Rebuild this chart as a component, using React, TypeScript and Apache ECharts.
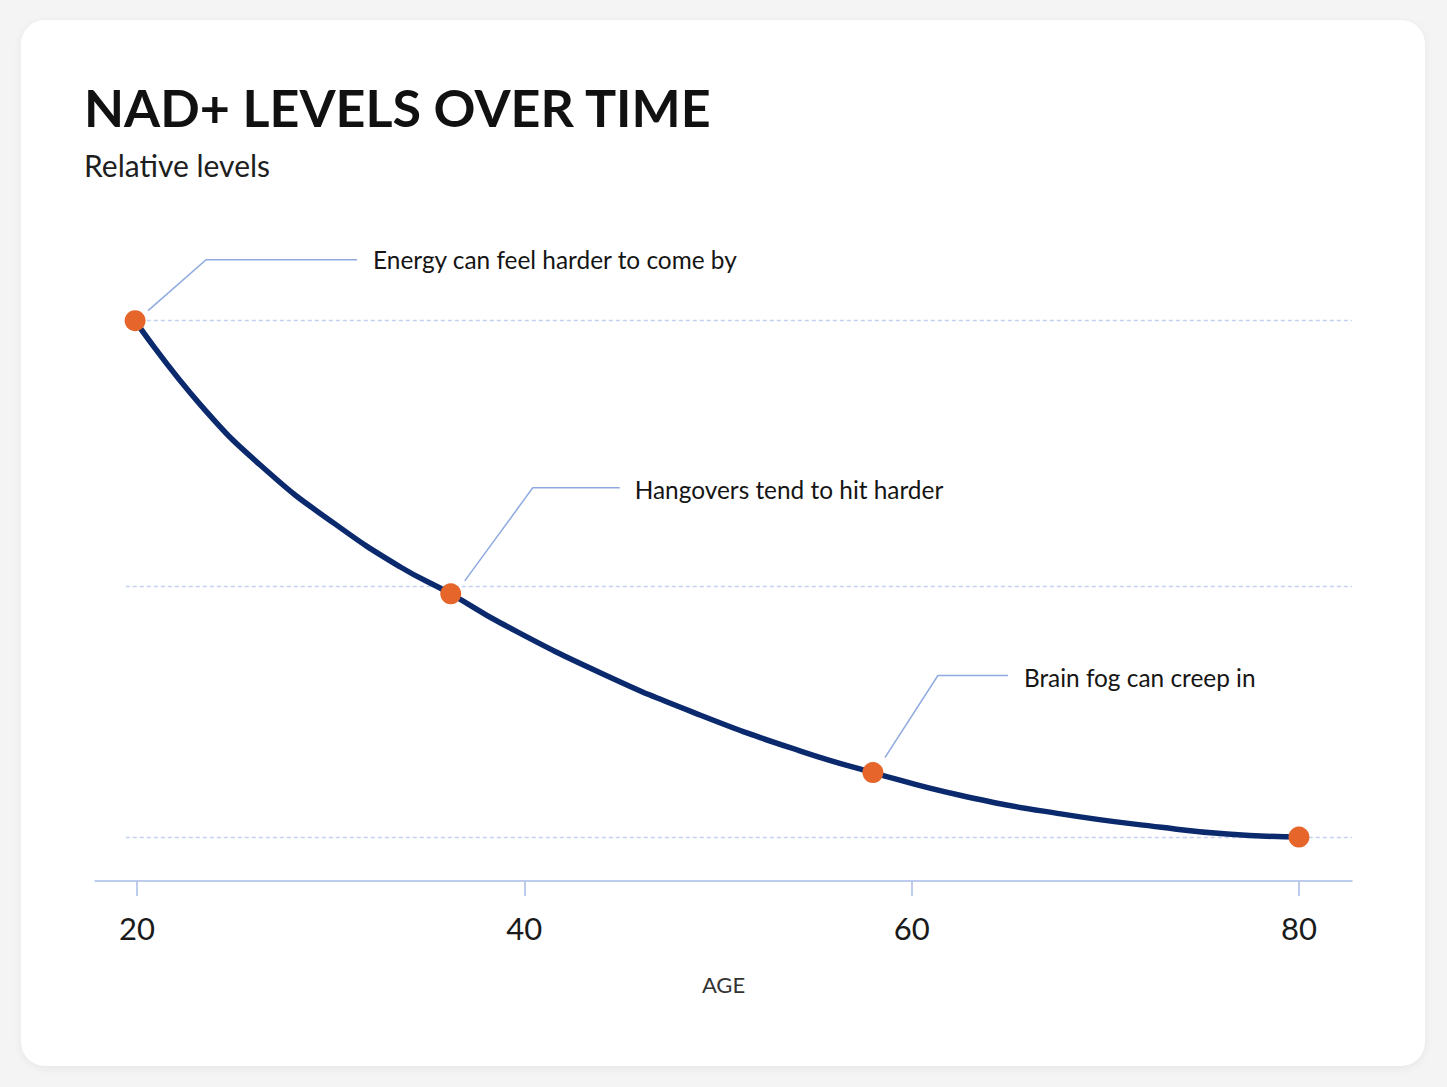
import React, { useEffect, useRef } from "react";
import * as echarts from "echarts";

// ---- data ----
const titleText = "NAD+ LEVELS OVER TIME";
const subtitleText = "Relative levels";
const axisName = "AGE";

const tickValues = [20, 40, 60, 80];

const curveAges = [19.9, 23.3, 26.8, 30.2, 33.6, 36.2, 38.8, 44, 49.1, 54.3, 58, 62.5, 67.7, 72.9, 76.3, 80];
const curveLevels = [100, 83.6, 70.6, 60.7, 52.3, 47.1, 41.4, 31.7, 23.6, 16.6, 12.5, 8.1, 4.5, 1.9, 0.6, 0];

const keyAges = [19.9, 36.2, 58, 80];
const keyLevels = [100, 47.1, 12.5, 0];

const annotationTexts = [
  "Energy can feel harder to come by",
  "Hangovers tend to hit harder",
  "Brain fog can creep in",
];

const gridLevels = [100, 48.6, 0];

// ---- styles ----
const FONT = "Lato, 'Noto Sans', sans-serif";
const NAVY = "#0b2a6e";
const ORANGE = "#e5652a";
const AXIS_BLUE = "#a9bde8";
const GRID_BLUE = "#c2d1ef";
const LEADER_BLUE = "#8eaae0";

const X_MIN = 17.83;
const X_MAX = 82.74;
const GRID_START = 19.42;

// leader offsets relative to each key point (pixels)
const leaderOffsets = [
  { sx: 13, sy: -10, ex: 71, ey: -61, hx: 222, tx: 238, ty: -61 },
  { sx: 14, sy: -13, ex: 82, ey: -106, hx: 169, tx: 184, ty: -104 },
  { sx: 12, sy: -15, ex: 65, ey: -97, hx: 135, tx: 151, ty: -95 },
];

export default function App() {
  const ref = useRef<HTMLDivElement>(null);

  useEffect(() => {
    if (!ref.current) return;
    const chart = echarts.init(ref.current, undefined, { renderer: "svg" });

    const option: any = {
      animation: false,
      backgroundColor: "transparent",
      title: [
        {
          text: titleText,
          left: 79,
          top: 76,
          textStyle: { fontFamily: FONT, fontSize: 52, fontWeight: "bold", color: "#111111" },
        },
        {
          text: subtitleText,
          left: 79,
          top: 145,
          textStyle: { fontFamily: FONT, fontSize: 30, fontWeight: "normal", color: "#1e1e1e" },
        },
      ],
      grid: { left: 95, right: 95, top: 300, bottom: 206, containLabel: false },
      xAxis: {
        type: "value",
        min: X_MIN,
        max: X_MAX,
        name: axisName,
        nameLocation: "middle",
        nameGap: 92,
        nameTextStyle: { fontFamily: FONT, fontSize: 22, color: "#333333" },
        axisLine: { show: true, onZero: false, lineStyle: { color: AXIS_BLUE, width: 1.5 } },
        axisTick: { show: true, length: 15, customValues: tickValues, lineStyle: { color: AXIS_BLUE, width: 1.5 } },
        axisLabel: { customValues: tickValues, fontFamily: FONT, fontSize: 31, color: "#1a1a1a", margin: 31 },
        splitLine: { show: false },
      },
      yAxis: {
        type: "value",
        min: -8.5,
        max: 104,
        show: false,
        splitLine: { show: false },
      },
      series: [
        {
          type: "line",
          name: "grid",
          data: [],
          z: 1,
          silent: true,
          markLine: {
            z: 1,
            silent: true,
            symbol: "none",
            label: { show: false },
            lineStyle: { color: GRID_BLUE, width: 1.3, type: [4, 3] },
            data: gridLevels.map((v) => [{ coord: [GRID_START, v] }, { coord: [X_MAX, v] }]),
          },
        },
        {
          type: "line",
          name: "NAD+",
          data: curveAges.map((a, i) => [a, curveLevels[i]]),
          smooth: 0.5,
          showSymbol: false,
          z: 2,
          lineStyle: { color: NAVY, width: 5.5, cap: "round", join: "round" },
        },
        {
          type: "scatter",
          name: "key",
          data: keyAges.map((a, i) => [a, keyLevels[i]]),
          symbolSize: 21,
          z: 6,
          itemStyle: { color: ORANGE, opacity: 1 },
        },
      ],
    };

    chart.setOption(option);

    const graphics: any[] = [];
    annotationTexts.forEach((txt, i) => {
      const p = chart.convertToPixel({ xAxisIndex: 0, yAxisIndex: 0 }, [keyAges[i], keyLevels[i]]) as number[];
      const o = leaderOffsets[i];
      graphics.push({
        type: "polyline",
        silent: true,
        shape: {
          points: [
            [p[0] + o.sx, p[1] + o.sy],
            [p[0] + o.ex, p[1] + o.ey],
            [p[0] + o.hx, p[1] + o.ey],
          ],
        },
        style: { stroke: LEADER_BLUE, lineWidth: 1.5, fill: null },
      });
      graphics.push({
        type: "text",
        silent: true,
        x: p[0] + o.tx,
        y: p[1] + o.ty,
        style: {
          text: txt,
          fontFamily: FONT,
          fontSize: 24.4,
          fill: "#151515",
          verticalAlign: "middle",
          align: "left",
        },
      });
    });
    chart.setOption({ graphic: graphics });

    return () => chart.dispose();
  }, []);

  return (
    <div style={{ position: "fixed", left: 0, top: 0, width: 1447, height: 1087, background: "#f4f4f5" }}>
      <div
        style={{
          position: "absolute",
          left: 21,
          top: 20,
          width: 1404,
          height: 1046,
          background: "#ffffff",
          borderRadius: 24,
          boxShadow: "0 2px 10px rgba(0,0,0,0.06)",
        }}
      />
      <div ref={ref} style={{ position: "absolute", left: 0, top: 0, width: 1447, height: 1087 }} />
    </div>
  );
}
